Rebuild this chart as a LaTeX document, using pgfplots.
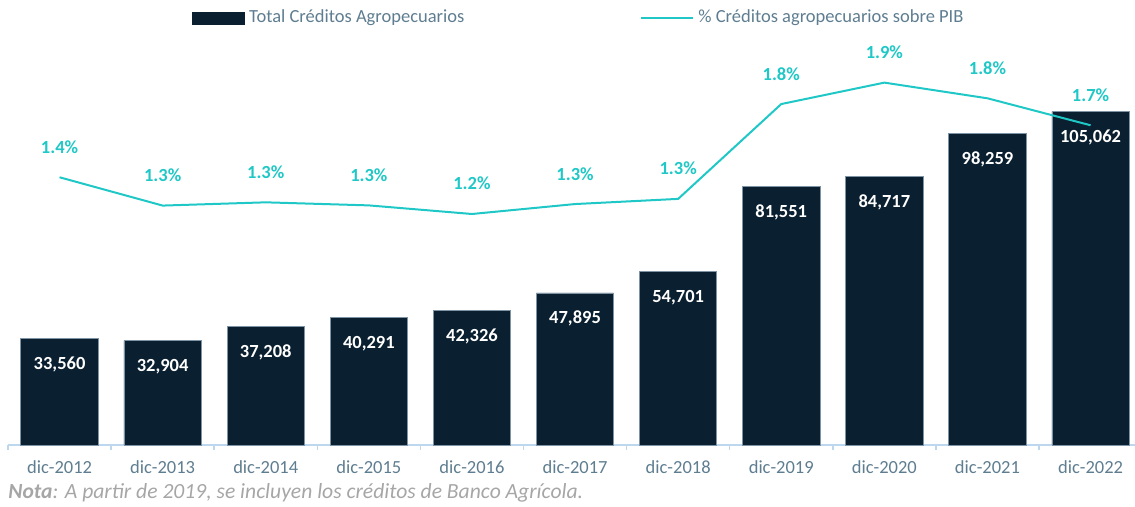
\documentclass[border=0pt]{standalone}
\usepackage{fontspec}
\setmainfont{Carlito}
\usepackage{pgfplots}
\usepackage{pgfplotstable}
\pgfplotsset{compat=1.18}

\definecolor{navy}{HTML}{0A1F2F}
\definecolor{baredge}{HTML}{7E94A5}
\definecolor{turq}{HTML}{1FC8C6}
\definecolor{ticktext}{HTML}{5E7D90}
\definecolor{axisblue}{HTML}{BDD7EE}
\definecolor{notegray}{HTML}{A6A6A6}

% total agricultural credit (millions)
\pgfplotstableread{
x y lab
0 33560 33,560
1 32904 32,904
2 37208 37,208
3 40291 40,291
4 42326 42,326
5 47895 47,895
6 54701 54,701
7 81551 81,551
8 84717 84,717
9 98259 98,259
10 105062 105,062
}\bars

% share of GDP (%)
\pgfplotstableread{
x y
0 1.400
1 1.252
2 1.269
3 1.253
4 1.208
5 1.260
6 1.287
7 1.783
8 1.895
9 1.813
10 1.672
}\pct

\pgfplotsset{
  base/.style={
    at={(4pt,31pt)}, anchor=south west, scale only axis,
    width=563.5pt, height=202.5pt,
    xmin=-0.5, xmax=10.431, clip=false,
  },
}

\begin{document}
\begin{tikzpicture}
\begin{axis}[base,
  ymin=0, ymax=127559,
  axis y line=none, axis x line*=bottom,
  x axis line style={-, axisblue, line width=0.75pt},
  xtick={0,...,10},
  xticklabels={dic-2012,dic-2013,dic-2014,dic-2015,dic-2016,dic-2017,dic-2018,dic-2019,dic-2020,dic-2021,dic-2022},
  major tick length=0pt,
  minor xtick={-0.5,0.5,...,10.5},
  minor tick length=2.5pt, tick align=outside,
  minor tick style={axisblue, line width=0.75pt},
  xticklabel style={font=\fontsize{9.25}{11}\selectfont, text=ticktext, anchor=base, yshift=-14.5pt},
  ybar, bar width=0.75,
  nodes near coords, point meta=explicit symbolic,
  every node near coord/.append style={anchor=base, yshift=-15.5pt, text=white,
    font=\fontsize{9.25}{11}\selectfont\bfseries},
]
\addplot[fill=navy, draw=baredge, line width=0.4pt] table[x=x, y=y, meta=lab] {\bars};
\end{axis}

\begin{axis}[base,
  ymin=0, ymax=2.118, hide axis,
  legend columns=2,
  legend style={draw=none, fill=none, at={(0.5075,1.0543)}, anchor=center,
    font=\fontsize{9.25}{11}\selectfont, text=ticktext,
    /tikz/every even column/.append style={column sep=86pt}},
  legend cell align=left,
]
\addlegendimage{legend image code/.code={\fill[navy] (0pt,-3pt) rectangle (26pt,3pt);}}
\addlegendentry{Total Créditos Agropecuarios}
\addplot[turq, line width=1pt, mark=none,
  nodes near coords={\pgfmathprintnumber[fixed,precision=1,assume math mode=true]{\pgfplotspointmeta}\%},
  every node near coord/.append style={anchor=base, yshift=12pt, text=turq,
    font=\fontsize{9.25}{11}\selectfont\bfseries},
  legend image code/.code={\draw[turq, line width=1pt] (0pt,0pt) -- (26pt,0pt);},
] table[x=x, y=y] {\pct};
\addlegendentry{\% Créditos agropecuarios sobre PIB}
\end{axis}

\node[anchor=base west, text=notegray, inner sep=0pt, font=\fontsize{10.8}{12}\selectfont\itshape]
  at (4pt,4pt) {\textbf{Nota}: A partir de 2019, se incluyen los créditos de Banco Agrícola.};

\pgfresetboundingbox
\path (0,0) rectangle (567.5pt,253.5pt);
\end{tikzpicture}
\end{document}
